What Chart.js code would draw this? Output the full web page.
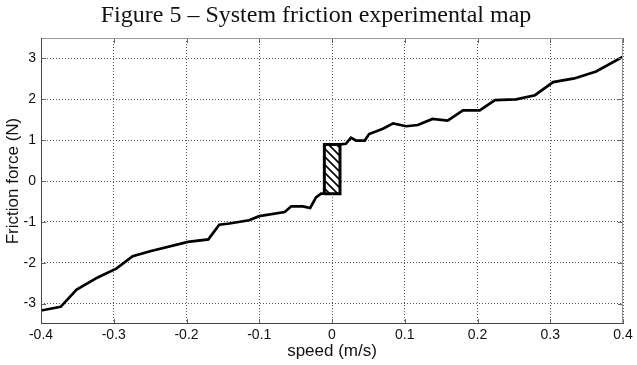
<!DOCTYPE html>
<html>
<head>
<meta charset="utf-8">
<script src="https://cdn.jsdelivr.net/npm/chart.js@4/dist/chart.umd.min.js"></script>
<style>
  html, body { margin: 0; padding: 0; background: #fff; }
  #wrap { width: 637px; height: 365px; }
</style>
</head>
<body>
<div id="wrap"><canvas id="chart"></canvas></div>
<script>
// measured friction curve, null = break across the stiction zone
var speed = [-0.4, -0.373, -0.351, -0.322, -0.296, -0.274, -0.25, -0.198, -0.17, -0.155, -0.141, -0.114, -0.1,
  -0.065, -0.056, -0.04, -0.03, -0.022, -0.015, -0.01, 0,
  0.011, 0.019, 0.026, 0.033, 0.045, 0.051, 0.07, 0.084, 0.102, 0.118, 0.138, 0.159, 0.18, 0.203,
  0.224, 0.253, 0.279, 0.304, 0.333, 0.363, 0.4];
var force = [-3.17, -3.08, -2.66, -2.36, -2.14, -1.84, -1.72, -1.49, -1.43, -1.07, -1.04, -0.96, -0.86,
  -0.76, -0.62, -0.62, -0.66, -0.40, -0.31, -0.31, null,
  0.895, 0.91, 1.06, 0.99, 0.99, 1.15, 1.28, 1.41, 1.34, 1.37, 1.52, 1.48, 1.73, 1.73,
  1.98, 2.00, 2.10, 2.42, 2.51, 2.68, 3.04];

// hatched stiction box
var boxSpeed = [-0.0105, -0.0105, 0.011, 0.011, -0.0105];
var boxForce = [-0.31, 0.895, 0.895, -0.31, -0.31];

var xTicks = [-0.4, -0.3, -0.2, -0.1, 0, 0.1, 0.2, 0.3, 0.4];
var yTicks = [-3, -2, -1, 0, 1, 2, 3];

var sans = '"Liberation Sans", Arial, sans-serif';

function toPoints(xs, ys) {
  return xs.map(function (x, i) { return { x: x, y: ys[i] }; });
}

function hatchPattern() {
  var c = document.createElement('canvas');
  c.width = 8; c.height = 8;
  var g = c.getContext('2d');
  g.fillStyle = '#fff';
  g.fillRect(0, 0, 8, 8);
  g.strokeStyle = '#000';
  g.lineWidth = 1.6;
  g.beginPath();
  g.moveTo(-2, -2); g.lineTo(10, 10);
  g.moveTo(-10, -2); g.lineTo(2, 10);
  g.moveTo(6, -2); g.lineTo(18, 10);
  g.stroke();
  return g.createPattern(c, 'repeat');
}

var framePlugin = {
  id: 'frame',
  afterDraw: function (chart) {
    var ctx = chart.ctx, a = chart.chartArea;
    var xs = chart.scales.x, ys = chart.scales.y;
    ctx.save();
    // inward tick marks like the original plot
    ctx.strokeStyle = '#666';
    ctx.lineWidth = 1;
    ctx.beginPath();
    xTicks.forEach(function (t) {
      var px = Math.round(xs.getPixelForValue(t)) + 0.5;
      ctx.moveTo(px, a.bottom); ctx.lineTo(px, a.bottom - 5);
      ctx.moveTo(px, a.top); ctx.lineTo(px, a.top + 5);
    });
    yTicks.forEach(function (t) {
      var py = Math.round(ys.getPixelForValue(t)) + 0.5;
      ctx.moveTo(a.left, py); ctx.lineTo(a.left + 5, py);
      ctx.moveTo(a.right, py); ctx.lineTo(a.right - 5, py);
    });
    ctx.stroke();
    // box
    ctx.strokeStyle = '#999';
    ctx.beginPath();
    ctx.moveTo(a.left, a.top + 0.5); ctx.lineTo(a.right - 0.5, a.top + 0.5);
    ctx.lineTo(a.right - 0.5, a.bottom);
    ctx.stroke();
    ctx.strokeStyle = '#444';
    ctx.beginPath();
    ctx.moveTo(a.left + 0.5, a.top); ctx.lineTo(a.left + 0.5, a.bottom - 0.5);
    ctx.lineTo(a.right, a.bottom - 0.5);
    ctx.stroke();
    // title
    ctx.fillStyle = '#111';
    ctx.font = '24px "Liberation Serif", "Times New Roman", serif';
    ctx.textAlign = 'center';
    ctx.textBaseline = 'alphabetic';
    ctx.fillText('Figure 5 \u2013 System friction experimental map', 316, 22);
    ctx.restore();
  }
};

var ctx = document.getElementById('chart');
new Chart(ctx, {
  type: 'line',
  data: {
    datasets: [{
      label: 'friction',
      data: toPoints(speed, force),
      borderColor: '#000',
      borderWidth: 2.7,
      pointRadius: 0,
      tension: 0,
      spanGaps: false,
      fill: false
    }, {
      label: 'stiction',
      data: toPoints(boxSpeed, boxForce),
      borderColor: '#000',
      borderWidth: 3,
      backgroundColor: hatchPattern(),
      pointRadius: 0,
      tension: 0,
      fill: 'shape',
      borderJoinStyle: 'miter'
    }]
  },
  options: {
    responsive: true,
    maintainAspectRatio: false,
    animation: false,
    layout: { padding: { top: 38, right: 14, left: 0, bottom: 0 } },
    plugins: {
      legend: { display: false },
      tooltip: { enabled: false }
    },
    scales: {
      x: {
        type: 'linear',
        min: -0.4,
        max: 0.4,
        afterBuildTicks: function (s) { s.ticks = xTicks.map(function (v) { return { value: v }; }); },
        afterFit: function (s) { s.height = 41; },
        border: { display: false, dash: [1, 2] },
        grid: { color: '#555', lineWidth: 1, tickLength: 0, drawTicks: false },
        ticks: {
          color: '#111',
          padding: 3,
          maxRotation: 0,
          font: { family: sans, size: 14 },
          callback: function (v) { return String(Math.round(v * 10) / 10); }
        },
        title: {
          display: true,
          text: 'speed (m/s)',
          color: '#111',
          padding: { top: 0, bottom: 3 },
          font: { family: sans, size: 17 }
        }
      },
      y: {
        type: 'linear',
        min: -3.5,
        max: 3.5,
        afterBuildTicks: function (s) { s.ticks = yTicks.map(function (v) { return { value: v }; }); },
        afterFit: function (s) { s.width = 41; },
        border: { display: false, dash: [1, 2] },
        grid: { color: '#555', lineWidth: 1, tickLength: 0, drawTicks: false },
        ticks: {
          color: '#111',
          padding: 5,
          font: { family: sans, size: 14 }
        },
        title: {
          display: true,
          text: 'Friction force (N)',
          color: '#111',
          padding: { top: 3, bottom: 0 },
          font: { family: sans, size: 17 }
        }
      }
    }
  },
  plugins: [framePlugin]
});
</script>
</body>
</html>
